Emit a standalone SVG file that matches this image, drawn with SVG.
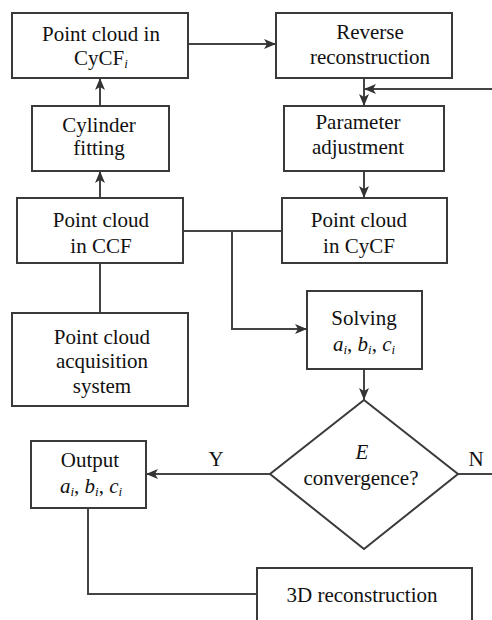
<svg xmlns="http://www.w3.org/2000/svg" width="492" height="620" viewBox="0 0 492 620">
<style>
.box{fill:#fff;stroke:#3a3a3a;stroke-width:2}
.ln{fill:none;stroke:#444;stroke-width:2}
text{font-family:"Liberation Serif","Times New Roman",serif;font-size:21px;fill:#111;text-anchor:middle}
.it{font-style:italic}
.sub{font-size:13px;font-style:italic}
</style>
<defs>
<marker id="ah" viewBox="0 0 12 10" refX="12" refY="5" markerWidth="12" markerHeight="10" markerUnits="userSpaceOnUse" orient="auto">
<path d="M0,0 L12,5 L0,10 L3,5 z" fill="#333"/>
</marker>
</defs>
<g id="connectors">
<line class="ln" x1="188" y1="44" x2="276" y2="44" marker-end="url(#ah)"/>
<line class="ln" x1="100" y1="106" x2="100" y2="78" marker-end="url(#ah)"/>
<line class="ln" x1="100" y1="198" x2="100" y2="171" marker-end="url(#ah)"/>
<line class="ln" x1="100" y1="263" x2="100" y2="313"/>
<line class="ln" x1="183" y1="231" x2="282" y2="231"/>
<polyline class="ln" points="232,231 232,329 307,329" marker-end="url(#ah)"/>
<line class="ln" x1="364" y1="78" x2="364" y2="106" marker-end="url(#ah)"/>
<line class="ln" x1="492" y1="89" x2="364" y2="89" marker-end="url(#ah)"/>
<line class="ln" x1="364" y1="171" x2="364" y2="198" marker-end="url(#ah)"/>
<line class="ln" x1="364" y1="369" x2="364" y2="400" marker-end="url(#ah)"/>
<line class="ln" x1="270" y1="474" x2="146" y2="474" marker-end="url(#ah)"/>
<line class="ln" x1="458" y1="474" x2="492" y2="474"/>
<polyline class="ln" points="88,508 88,594 257,594"/>
<text x="216" y="466">Y</text>
<text x="476" y="466">N</text>
</g>
<g id="n1"><rect class="box" x="12" y="13" width="176" height="65"/>
<text x="101" y="41">Point cloud in</text>
<text x="101" y="65">CyCF<tspan class="sub" dy="3">i</tspan></text></g>
<g id="n2"><rect class="box" x="276" y="13" width="176" height="65"/>
<text x="370" y="39">Reverse</text>
<text x="370" y="64">reconstruction</text></g>
<g id="n3"><rect class="box" x="32" y="106" width="137" height="65"/>
<text x="99" y="132">Cylinder</text>
<text x="99" y="155">fitting</text></g>
<g id="n4"><rect class="box" x="284" y="106" width="160" height="65"/>
<text x="358" y="129">Parameter</text>
<text x="358" y="154">adjustment</text></g>
<g id="n5"><rect class="box" x="17" y="198" width="166" height="65"/>
<text x="101" y="227">Point cloud</text>
<text x="101" y="253">in CCF</text></g>
<g id="n6"><rect class="box" x="282" y="198" width="165" height="65"/>
<text x="359" y="227">Point cloud</text>
<text x="359" y="253">in CyCF</text></g>
<g id="n7"><rect class="box" x="12" y="313" width="176" height="93"/>
<text x="102" y="344">Point cloud</text>
<text x="102" y="368">acquisition</text>
<text x="102" y="393">system</text></g>
<g id="n8"><rect class="box" x="307" y="291" width="115" height="78"/>
<text x="364" y="325">Solving</text>
<text x="364" y="351"><tspan class="it">a</tspan><tspan class="sub" dy="3">i</tspan><tspan dy="-3">, </tspan><tspan class="it">b</tspan><tspan class="sub" dy="3">i</tspan><tspan dy="-3">, </tspan><tspan class="it">c</tspan><tspan class="sub" dy="3">i</tspan></text></g>
<g id="n9"><polygon class="box" points="364,400 458,474 364,549 270,474"/>
<text class="it" x="362" y="459">E</text>
<text x="361" y="485">convergence?</text></g>
<g id="n10"><rect class="box" x="31" y="441" width="115" height="67"/>
<text x="90" y="467">Output</text>
<text x="91" y="493"><tspan class="it">a</tspan><tspan class="sub" dy="3">i</tspan><tspan dy="-3">, </tspan><tspan class="it">b</tspan><tspan class="sub" dy="3">i</tspan><tspan dy="-3">, </tspan><tspan class="it">c</tspan><tspan class="sub" dy="3">i</tspan></text></g>
<g id="n11"><rect class="box" x="257" y="568" width="215" height="60"/>
<text x="362" y="602">3D reconstruction</text></g>
</svg>
